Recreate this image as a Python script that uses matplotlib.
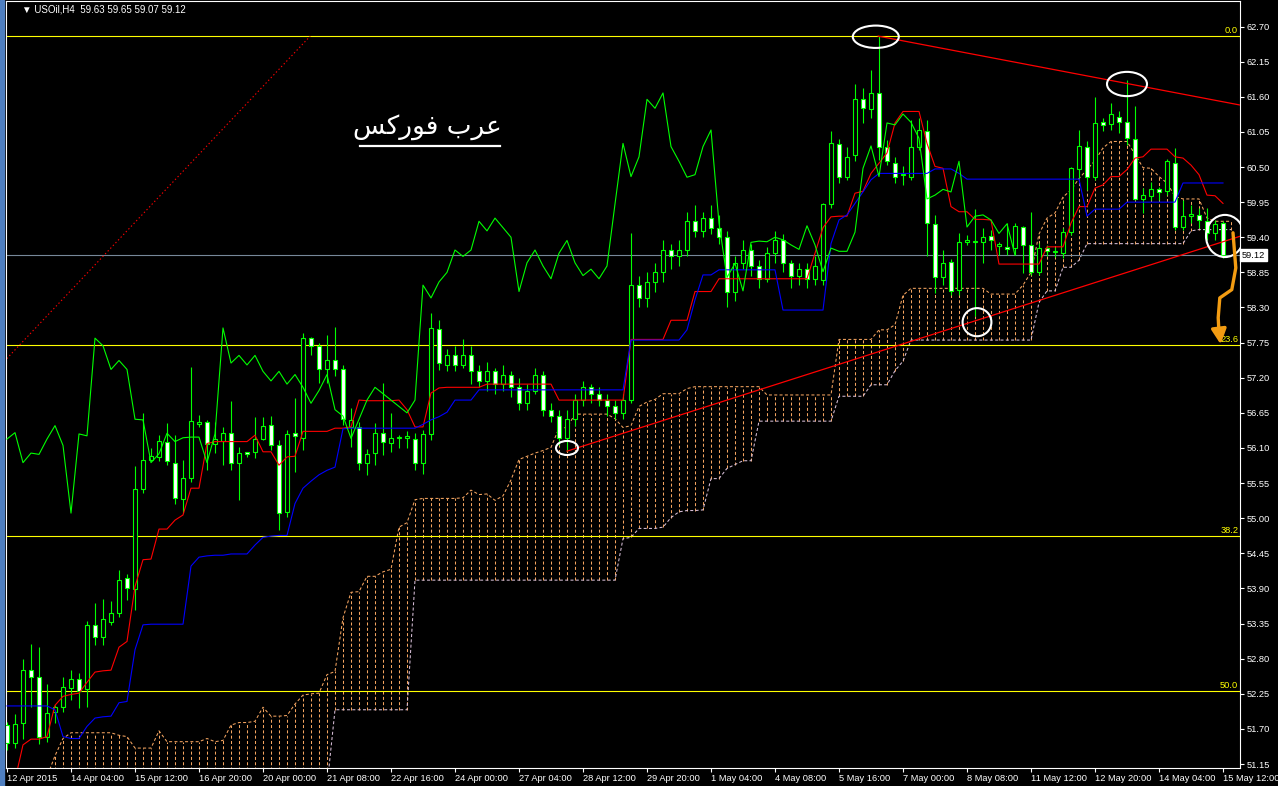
import numpy as np
import matplotlib
matplotlib.use('Agg')
import matplotlib.pyplot as plt
from matplotlib import font_manager
from matplotlib.patches import Ellipse, Rectangle
import matplotlib.transforms as mtransforms

# H4 candles (bar 0 = 12 Apr 2015, bar 152 = 15 May 12:00)
opens = [51.76, 51.48, 51.79, 52.63, 52.51, 51.58, 51.96, 52.05, 52.34, 52.48,
         52.32, 53.33, 53.14, 53.38, 53.52, 54.06, 53.89, 55.45, 55.91, 55.96,
         56.20, 55.86, 55.30, 55.63, 56.48, 56.50, 56.16, 56.21, 56.33, 55.87,
         56.03, 56.03, 56.24, 56.46, 56.14, 55.09, 56.34, 56.25, 57.82, 57.70,
         57.33, 57.47, 57.33, 56.43, 56.43, 55.87, 56.02, 56.33, 56.18, 56.25,
         56.26, 56.24, 55.86, 56.32, 57.96, 57.40, 57.55, 57.40, 57.55, 57.30,
         57.15, 57.30, 57.10, 57.25, 57.05, 56.80, 57.00, 57.25, 56.70, 56.60,
         56.25, 56.55, 56.85, 57.05, 56.95, 56.85, 56.75, 56.65, 56.85, 58.65,
         58.45, 58.70, 58.85, 59.20, 59.10, 59.20, 59.65, 59.50, 59.70, 59.55,
         59.40, 58.55, 59.00, 59.20, 58.95, 58.75, 59.15, 59.35, 59.00, 58.80,
         58.90, 58.75, 58.73, 59.92, 60.86, 60.35, 60.69, 61.56, 61.41, 61.66,
         60.82, 60.57, 60.37, 60.35, 60.81, 61.07, 59.60, 58.77, 59.01, 58.57,
         59.33, 59.32, 59.33, 59.42, 59.27, 59.24, 59.23, 59.56, 59.28, 58.86,
         59.23, 59.17, 59.15, 59.49, 60.47, 60.82, 60.35, 61.20, 61.17, 61.29,
         61.20, 60.94, 60.00, 60.04, 60.15, 60.12, 60.56, 59.56, 59.74, 59.75,
         59.65, 59.46, 59.63]
highs = [51.81, 51.93, 52.79, 53.03, 52.98, 52.40, 52.08, 52.52, 52.62, 52.58,
         53.39, 53.67, 53.73, 53.70, 54.19, 54.13, 55.82, 56.64, 56.10, 56.30,
         56.49, 56.30, 55.91, 57.37, 56.62, 56.54, 56.51, 56.43, 56.83, 56.12,
         56.04, 56.59, 56.59, 56.60, 56.23, 56.38, 56.88, 57.90, 57.84, 57.75,
         57.87, 57.99, 57.40, 56.72, 56.51, 56.08, 56.49, 57.12, 56.65, 56.30,
         56.36, 56.33, 56.38, 58.22, 58.11, 57.65, 57.70, 57.80, 57.70, 57.40,
         57.45, 57.35, 57.40, 57.30, 57.20, 57.10, 57.35, 57.30, 56.80, 56.70,
         56.70, 56.95, 57.15, 57.10, 57.05, 56.95, 56.85, 56.95, 59.46, 58.80,
         58.85, 59.00, 59.35, 59.30, 59.35, 59.80, 59.90, 59.80, 59.90, 59.75,
         59.50, 59.10, 59.35, 59.30, 59.05, 59.25, 59.50, 59.45, 59.05, 59.00,
         59.00, 59.10, 59.93, 61.06, 60.94, 60.81, 61.80, 61.73, 62.02, 62.55,
         60.93, 60.66, 60.51, 61.24, 61.27, 61.24, 59.75, 59.20, 59.06, 59.46,
         59.44, 59.84, 59.54, 59.52, 59.33, 59.62, 59.63, 59.57, 59.80, 59.31,
         59.28, 59.24, 59.55, 60.50, 61.08, 60.90, 61.60, 61.27, 61.50, 61.37,
         61.87, 61.46, 60.17, 60.27, 60.19, 60.62, 60.80, 59.99, 59.91, 59.86,
         59.86, 59.67, 59.65]
lows = [51.37, 51.40, 51.55, 52.05, 51.46, 51.50, 51.79, 51.97, 52.16, 52.02,
        52.04, 53.01, 53.01, 53.33, 53.46, 53.72, 53.57, 55.40, 55.89, 55.89,
        55.83, 55.23, 55.08, 55.57, 56.43, 55.76, 56.02, 55.83, 55.76, 55.29,
        55.96, 55.94, 56.23, 56.07, 54.82, 55.02, 55.73, 56.07, 57.56, 57.12,
        57.11, 57.22, 56.46, 56.12, 55.76, 55.68, 55.83, 55.99, 56.04, 56.10,
        56.10, 55.76, 55.70, 56.23, 57.32, 57.30, 57.30, 57.35, 57.10, 57.05,
        57.00, 56.95, 57.00, 56.90, 56.70, 56.70, 56.95, 56.60, 56.50, 56.15,
        56.05, 56.45, 56.75, 56.80, 56.75, 56.60, 56.55, 56.55, 56.80, 58.30,
        58.30, 58.55, 58.70, 58.90, 58.95, 59.10, 59.40, 59.40, 59.45, 59.30,
        58.30, 58.40, 58.90, 58.80, 58.60, 58.70, 59.00, 58.85, 58.60, 58.65,
        58.60, 58.65, 58.65, 59.86, 60.25, 60.30, 60.60, 61.19, 61.27, 60.61,
        60.53, 60.25, 60.22, 60.30, 60.77, 59.10, 58.52, 58.65, 58.50, 58.50,
        59.28, 58.17, 59.00, 59.20, 59.12, 59.12, 59.12, 58.84, 58.81, 58.81,
        59.11, 59.09, 59.08, 59.44, 60.33, 60.14, 60.30, 61.06, 61.08, 61.03,
        60.85, 59.99, 59.78, 59.99, 59.99, 60.06, 59.52, 59.52, 59.62, 59.54,
        59.36, 59.36, 59.07]
closes = [51.48, 51.77, 52.63, 52.52, 51.57, 51.95, 52.04, 52.35, 52.48, 52.29,
          53.33, 53.14, 53.42, 53.52, 54.04, 53.90, 55.45, 55.91, 55.98, 56.21,
          55.89, 55.31, 55.63, 56.52, 56.50, 56.16, 56.24, 56.34, 55.87, 56.02,
          56.00, 56.24, 56.45, 56.14, 55.08, 56.32, 56.29, 57.82, 57.70, 57.33,
          57.47, 57.33, 56.55, 56.54, 55.87, 56.01, 56.33, 56.20, 56.26, 56.27,
          56.27, 55.87, 56.32, 57.98, 57.43, 57.55, 57.40, 57.55, 57.30, 57.15,
          57.30, 57.10, 57.25, 57.05, 56.80, 57.00, 57.25, 56.70, 56.60, 56.25,
          56.55, 56.85, 57.05, 56.95, 56.85, 56.75, 56.65, 56.85, 58.65, 58.45,
          58.70, 58.85, 59.20, 59.10, 59.20, 59.65, 59.50, 59.70, 59.55, 59.40,
          58.55, 59.00, 59.20, 58.95, 58.75, 59.15, 59.35, 59.00, 58.80, 58.90,
          58.75, 58.95, 59.92, 60.87, 60.35, 60.66, 61.56, 61.42, 61.66, 60.82,
          60.59, 60.34, 60.38, 60.82, 61.08, 59.62, 58.77, 58.99, 58.56, 59.32,
          59.34, 59.33, 59.40, 59.36, 59.28, 59.21, 59.58, 59.28, 58.86, 59.23,
          59.18, 59.18, 59.48, 60.48, 60.83, 60.35, 61.19, 61.16, 61.33, 61.20,
          60.95, 60.00, 60.06, 60.15, 60.11, 60.59, 59.56, 59.73, 59.75, 59.67,
          59.46, 59.61, 59.12]

# Ichimoku lines as drawn on the chart
tenkan = [50.50, 50.90, 51.45, 51.54, 51.54, 51.58, 52.07, 52.21, 52.24, 52.26,
          52.43, 52.59, 52.61, 52.62, 52.98, 53.07, 53.93, 54.35, 54.36, 54.83,
          54.83, 54.97, 55.05, 55.47, 55.47, 56.17, 56.20, 56.20, 56.20, 56.20,
          56.20, 56.30, 56.04, 56.04, 55.83, 55.96, 55.97, 56.36, 56.36, 56.36,
          56.36, 56.41, 56.41, 56.43, 56.85, 56.84, 56.84, 56.84, 56.84, 56.85,
          56.70, 56.43, 56.43, 56.96, 57.04, 57.05, 57.05, 57.05, 57.05, 57.05,
          57.10, 57.10, 57.10, 57.10, 57.10, 57.10, 57.10, 57.10, 57.10, 56.85,
          56.85, 56.85, 56.85, 56.85, 56.85, 56.85, 56.85, 56.85, 57.80, 57.80,
          57.80, 57.80, 57.80, 58.10, 58.10, 58.10, 58.55, 58.55, 58.55, 58.75,
          58.75, 58.75, 58.75, 58.75, 58.75, 58.75, 58.75, 58.75, 58.75, 58.75,
          58.75, 59.15, 59.55, 59.72, 59.73, 59.73, 60.09, 60.12, 60.40, 60.56,
          60.72, 61.19, 61.37, 61.37, 61.37, 60.87, 60.51, 60.48, 59.88, 59.80,
          59.80, 59.68, 59.68, 59.67, 58.98, 58.98, 58.98, 58.98, 58.98, 58.98,
          59.25, 59.25, 59.25, 59.62, 59.88, 59.88, 60.17, 60.22, 60.35, 60.35,
          60.46, 60.64, 60.66, 60.78, 60.78, 60.78, 60.66, 60.64, 60.53, 60.38,
          60.06, 60.05, 59.93]
kijun = [52.06, 52.06, 52.06, 52.06, 52.06, 52.06, 52.00, 51.58, 51.55, 51.55,
         51.74, 51.87, 51.89, 51.90, 52.11, 52.13, 52.94, 53.33, 53.34, 53.34,
         53.34, 53.34, 53.34, 54.25, 54.39, 54.41, 54.42, 54.42, 54.44, 54.44,
         54.44, 54.58, 54.70, 54.72, 54.73, 54.73, 55.23, 55.47, 55.58, 55.68,
         55.75, 55.80, 56.40, 56.41, 56.41, 56.41, 56.41, 56.41, 56.41, 56.41,
         56.41, 56.41, 56.47, 56.54, 56.59, 56.66, 56.85, 56.85, 56.85, 57.01,
         57.01, 57.01, 57.01, 57.01, 57.01, 57.01, 57.01, 57.01, 57.01, 57.01,
         57.01, 57.01, 57.01, 57.01, 57.01, 57.01, 57.01, 57.01, 57.79, 57.79,
         57.79, 57.79, 57.79, 57.79, 57.79, 57.95, 58.42, 58.81, 58.81, 58.89,
         58.89, 58.89, 58.89, 58.89, 58.89, 58.89, 58.89, 58.26, 58.26, 58.26,
         58.26, 58.26, 58.26, 59.30, 59.67, 59.75, 59.93, 60.11, 60.30, 60.40,
         60.40, 60.40, 60.40, 60.40, 60.40, 60.40, 60.47, 60.47, 60.47, 60.40,
         60.31, 60.31, 60.31, 60.31, 60.31, 60.31, 60.31, 60.31, 60.31, 60.31,
         60.31, 60.31, 60.31, 60.31, 60.31, 59.73, 59.84, 59.84, 59.84, 59.84,
         59.95, 59.95, 59.95, 59.95, 59.95, 59.95, 59.95, 60.25, 60.25, 60.25,
         60.25, 60.25, 60.25]
# senkou spans, 154 bars (cloud runs one bar past the last candle)
span_a = [50.95, 50.95, 50.95, 50.95, 50.95, 50.95, 51.28, 51.55, 51.64, 51.64,
          51.64, 51.64, 51.64, 51.64, 51.60, 51.58, 51.40, 51.40, 51.40, 51.67,
          51.50, 51.50, 51.50, 51.50, 51.50, 51.55, 51.50, 51.52, 51.76, 51.80,
          51.80, 51.82, 52.04, 51.90, 51.90, 51.91, 52.09, 52.23, 52.25, 52.26,
          52.55, 52.60, 53.44, 53.84, 53.85, 54.09, 54.09, 54.16, 54.20, 54.86,
          54.93, 55.29, 55.31, 55.31, 55.31, 55.31, 55.31, 55.32, 55.44, 55.37,
          55.38, 55.28, 55.35, 55.60, 55.92, 55.97, 56.02, 56.06, 56.11, 56.41,
          56.42, 56.63, 56.63, 56.63, 56.63, 56.63, 56.56, 56.42, 56.45, 56.75,
          56.82, 56.86, 56.95, 56.95, 56.95, 57.03, 57.06, 57.06, 57.06, 57.06,
          57.06, 57.06, 57.06, 57.06, 57.06, 56.93, 56.93, 56.93, 56.93, 56.93,
          56.93, 56.93, 56.93, 56.93, 57.80, 57.80, 57.80, 57.80, 57.80, 57.95,
          57.95, 58.03, 58.49, 58.60, 58.60, 58.60, 58.60, 58.60, 58.60, 58.60,
          58.60, 58.60, 58.60, 58.51, 58.51, 58.51, 58.51, 58.65, 58.85, 59.45,
          59.70, 59.78, 60.03, 60.14, 60.32, 60.46, 60.60, 60.80, 60.90, 60.90,
          60.90, 60.70, 60.49, 60.48, 60.35, 60.25, 60.04, 60.00, 60.00, 60.00,
          59.70, 59.65, 59.65, 59.65]
span_b = ([50.80] * 41 + [52.00] * 10 + [54.03] * 26
          + [54.68, 54.70, 54.84, 54.84, 54.84, 54.86, 55.01, 55.10, 55.12, 55.12,
             55.13, 55.62, 55.62, 55.78, 55.84, 55.90, 55.90]
          + [56.52] * 10 + [56.91] * 4 + [57.09] * 3 + [57.31, 57.46]
          + [57.79] * 16 + [58.38, 58.56, 58.56, 58.93, 58.93, 59.04]
          + [59.30] * 13 + [59.50] + [59.52] * 5)

x_labels = ['12 Apr 2015', '14 Apr 04:00', '15 Apr 12:00', '16 Apr 20:00',
            '20 Apr 00:00', '21 Apr 08:00', '22 Apr 16:00', '24 Apr 00:00',
            '27 Apr 04:00', '28 Apr 12:00', '29 Apr 20:00', '1 May 04:00',
            '4 May 08:00', '5 May 16:00', '7 May 00:00', '8 May 08:00',
            '11 May 12:00', '12 May 20:00', '14 May 04:00', '15 May 12:00']
y_ticks = [62.70, 62.15, 61.60, 61.05, 60.50, 59.95, 59.40, 58.85, 58.30, 57.75,
           57.20, 56.65, 56.10, 55.55, 55.00, 54.45, 53.90, 53.35, 52.80, 52.25,
           51.70, 51.15]

fib_levels = [62.55, 57.71, 54.72, 52.29]
fib_names = ['0.0', '23.6', '38.2', '50.0']
bid = 59.12

# annotations: (bar, price, width in bars, height in price)
circles = [(108.6, 62.54, 5.75, 0.35), (140.0, 61.80, 5.0, 0.38),
           (121.25, 58.07, 3.6, 0.44), (70.0, 56.10, 2.75, 0.22),
           (152.25, 59.42, 4.75, 0.66)]
upper_trend = ([108.9, 155.0], [62.55, 61.45])
lower_trend = ([70.0, 155.0], [56.05, 59.45])
fib_trend = ([-1.0, 37.9], [57.37, 62.55])
arrow_path = ([153.25, 153.6, 153.1, 151.6, 151.4, 151.5],
              [59.47, 58.92, 58.58, 58.45, 58.14, 57.90])

# narrow terminal-like font for the axis texts
names = {f.name for f in font_manager.fontManager.ttflist}
if 'Liberation Sans Narrow' in names:
    ui_font, ui_size = 'Liberation Sans Narrow', 7.6
else:
    ui_font, ui_size = 'Liberation Sans', 6.7

n = len(closes)
x = np.arange(n)
o = np.array(opens)
c = np.array(closes)

fig = plt.figure(figsize=(12.78, 7.86), dpi=100, facecolor='black')
fig.patches.append(Rectangle((0, 0), 4 / 1278, 1, transform=fig.transFigure,
                             color='#4f7fc0', zorder=0))
ax = fig.add_axes([6 / 1278, 18 / 786, 1234 / 1278, 767 / 786], facecolor='black')
ax.set_xlim(-0.125, 154.125)
ax.set_ylim(51.088, 63.10)

# kumo: vertical dotted histogram between span A and span B
sa = np.array(span_a)
sb = np.array(span_b)
xs = np.arange(len(sa))
up = sa >= sb
dots = (0, (2.9, 2.2))
ax.vlines(xs[up], sb[up], sa[up], colors='#F4A460', lw=0.75, linestyles=dots, zorder=1)
ax.vlines(xs[~up], sa[~up], sb[~up], colors='#D8BFD8', lw=0.75, linestyles=dots, zorder=1)
ax.plot(xs, sa, color='#F4A460', lw=0.75, ls=dots, zorder=1)
ax.plot(xs, sb, color='#D8BFD8', lw=0.75, ls=dots, zorder=1)

# fibonacci levels and bid line
for lvl, name in zip(fib_levels, fib_names):
    ax.axhline(lvl, color='#FFFF00', lw=0.8, zorder=2)
    ax.text(153.9, lvl + 0.02, name, color='#FFFF00', fontsize=ui_size,
            family=ui_font, ha='right', va='bottom', zorder=2)
ax.axhline(bid, color='#778899', lw=0.8, zorder=2)
ax.plot(*fib_trend, color='#FF0000', lw=0.8, ls=(0, (1.2, 2.2)), zorder=2)

# candles
ax.vlines(x, lows, highs, colors='#00FF00', lw=0.8, zorder=3)
bull = c >= o
body = np.maximum(np.abs(c - o), 0.02)
ax.bar(x, body, bottom=np.minimum(o, c), width=0.6,
       color=np.where(bull, 'black', 'white'), edgecolor='#00FF00',
       linewidth=0.8, zorder=4)

# ichimoku lines
ax.plot(x, tenkan, color='#FF0000', lw=0.8, zorder=5)
ax.plot(x, kijun, color='#0000FF', lw=0.8, zorder=5)
ax.plot(x[:n - 26], closes[26:], color='#00FF00', lw=0.8, zorder=5)

# trend lines
ax.plot(*upper_trend, color='#FF0000', lw=0.9, zorder=6)
ax.plot(*lower_trend, color='#FF0000', lw=0.9, zorder=6)

for cx, cy, w, h in circles:
    ax.add_patch(Ellipse((cx, cy), w, h, fill=False, edgecolor='white', lw=1.5, zorder=7))

ax.plot(*arrow_path, color='#F39C12', lw=2.4, solid_capstyle='round', zorder=7)
ax.annotate('', xy=(151.75, 57.68), xytext=(151.5, 57.95),
            arrowprops=dict(arrowstyle='-|>,head_width=0.45,head_length=0.9',
                            color='#F39C12', lw=2.4), zorder=7)

# arabic caption (presentation forms, visual order)
ax.text(52.6, 61.12, '\uFEB2\uFEDB\uFEAD\uFEEE\uFED3 \uFE8F\uFEAE\uFECB',
        color='white', fontsize=19, family=['DejaVu Sans'], ha='center',
        va='center', zorder=8)
ax.plot([44.1, 61.6], [60.83, 60.83], color='white', lw=1.6, zorder=8)

# axes styling
for s in ax.spines.values():
    s.set_color('white')
    s.set_linewidth(0.8)
ax.yaxis.tick_right()
ax.set_yticks(y_ticks)
ax.set_yticklabels(['%.2f' % v for v in y_ticks])
ax.set_xticks(np.arange(0, n, 8))
ax.set_xticklabels(x_labels)
for lab in ax.get_xticklabels():
    lab.set_ha('left')
for lab in ax.get_xticklabels() + ax.get_yticklabels():
    lab.set_family(ui_font)
ax.tick_params(axis='both', colors='white', labelsize=ui_size, length=3, width=0.8)
ax.tick_params(axis='y', pad=2)
ax.tick_params(axis='x', pad=1.5)

ax.text(1.0015, bid, '%.2f' % bid, transform=mtransforms.blended_transform_factory(ax.transAxes, ax.transData),
        color='black', fontsize=ui_size, family=ui_font, ha='left', va='center', zorder=9,
        bbox=dict(boxstyle='square,pad=0.2', facecolor='white', edgecolor='white'))
fig.text(22 / 1278, 1 - 9 / 786, '\u25BC USOil,H4  59.63 59.65 59.07 59.12',
         color='white', fontsize=ui_size + 0.3, family=[ui_font, 'DejaVu Sans'],
         va='center', ha='left')

fig.savefig('out.png', dpi=100, facecolor='black')
